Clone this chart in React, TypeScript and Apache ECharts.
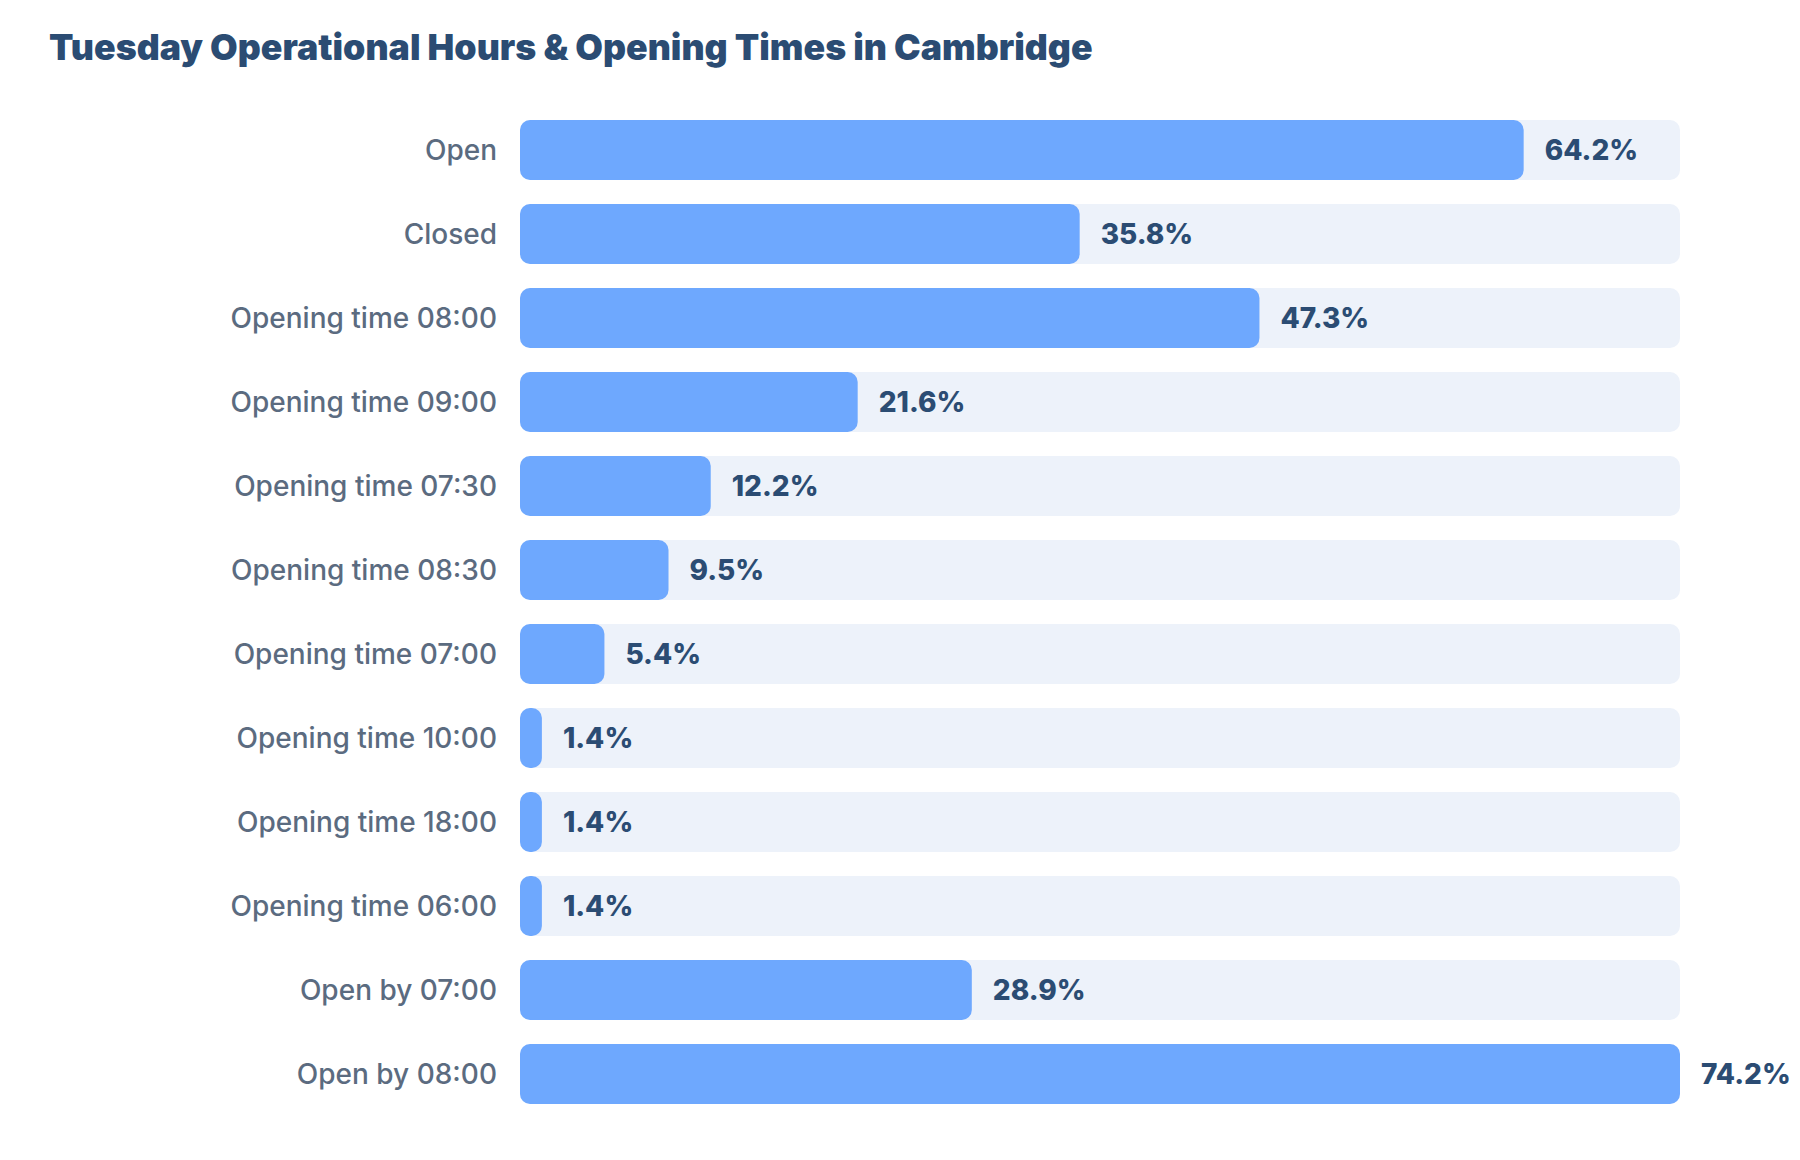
import * as echarts from "echarts"
import { useEffect, useRef } from "react"

const categories = [
  "Open",
  "Closed",
  "Opening time 08:00",
  "Opening time 09:00",
  "Opening time 07:30",
  "Opening time 08:30",
  "Opening time 07:00",
  "Opening time 10:00",
  "Opening time 18:00",
  "Opening time 06:00",
  "Open by 07:00",
  "Open by 08:00",
]

const shares = [64.2, 35.8, 47.3, 21.6, 12.2, 9.5, 5.4, 1.4, 1.4, 1.4, 28.9, 74.2]

const title = "Tuesday Operational Hours & Opening Times in Cambridge"

// Horizontal share bars on a pale track; the longest bar fills the track.
function HoursChart() {
  const ref = useRef<HTMLDivElement>(null)

  useEffect(() => {
    if (!ref.current) return
    document.body.style.margin = "0"
    const chart = echarts.init(ref.current, null, { renderer: "svg" })

    chart.setOption({
      animation: false,
      backgroundColor: "#ffffff",
      textStyle: { fontFamily: "Inter" },
      title: {
        text: title,
        left: 44,
        top: 24,
        textStyle: { fontFamily: "Inter", fontSize: 35.7, fontWeight: 900, color: "#2b4c73" },
      },
      grid: { left: 520, right: 120, top: 108, bottom: 44, containLabel: false },
      xAxis: {
        type: "value",
        min: 0,
        max: Math.max(...shares),
        show: false,
      },
      yAxis: {
        type: "category",
        data: categories,
        inverse: true,
        axisLine: { show: false },
        axisTick: { show: false },
        splitLine: { show: false },
        axisLabel: { color: "#5b6b80", fontSize: 28, fontWeight: 500, margin: 23, fontFamily: "Inter" },
      },
      series: [
        {
          type: "bar",
          data: shares,
          barWidth: 60,
          showBackground: true,
          backgroundStyle: { color: "#edf2fa", borderRadius: 10 },
          itemStyle: { color: "#6ea8fe", borderRadius: 10 },
          label: {
            show: true,
            position: "right",
            distance: 21,
            formatter: (p: { value: number }) => `${p.value.toFixed(1)}%`,
            color: "#2b4c73",
            fontSize: 28,
            fontWeight: 800,
            fontFamily: "Inter",
          },
        },
      ],
    })

    return () => chart.dispose()
  }, [])

  return <div ref={ref} style={{ width: 1800, height: 1160 }} />
}

export default function App() {
  return <HoursChart />
}
